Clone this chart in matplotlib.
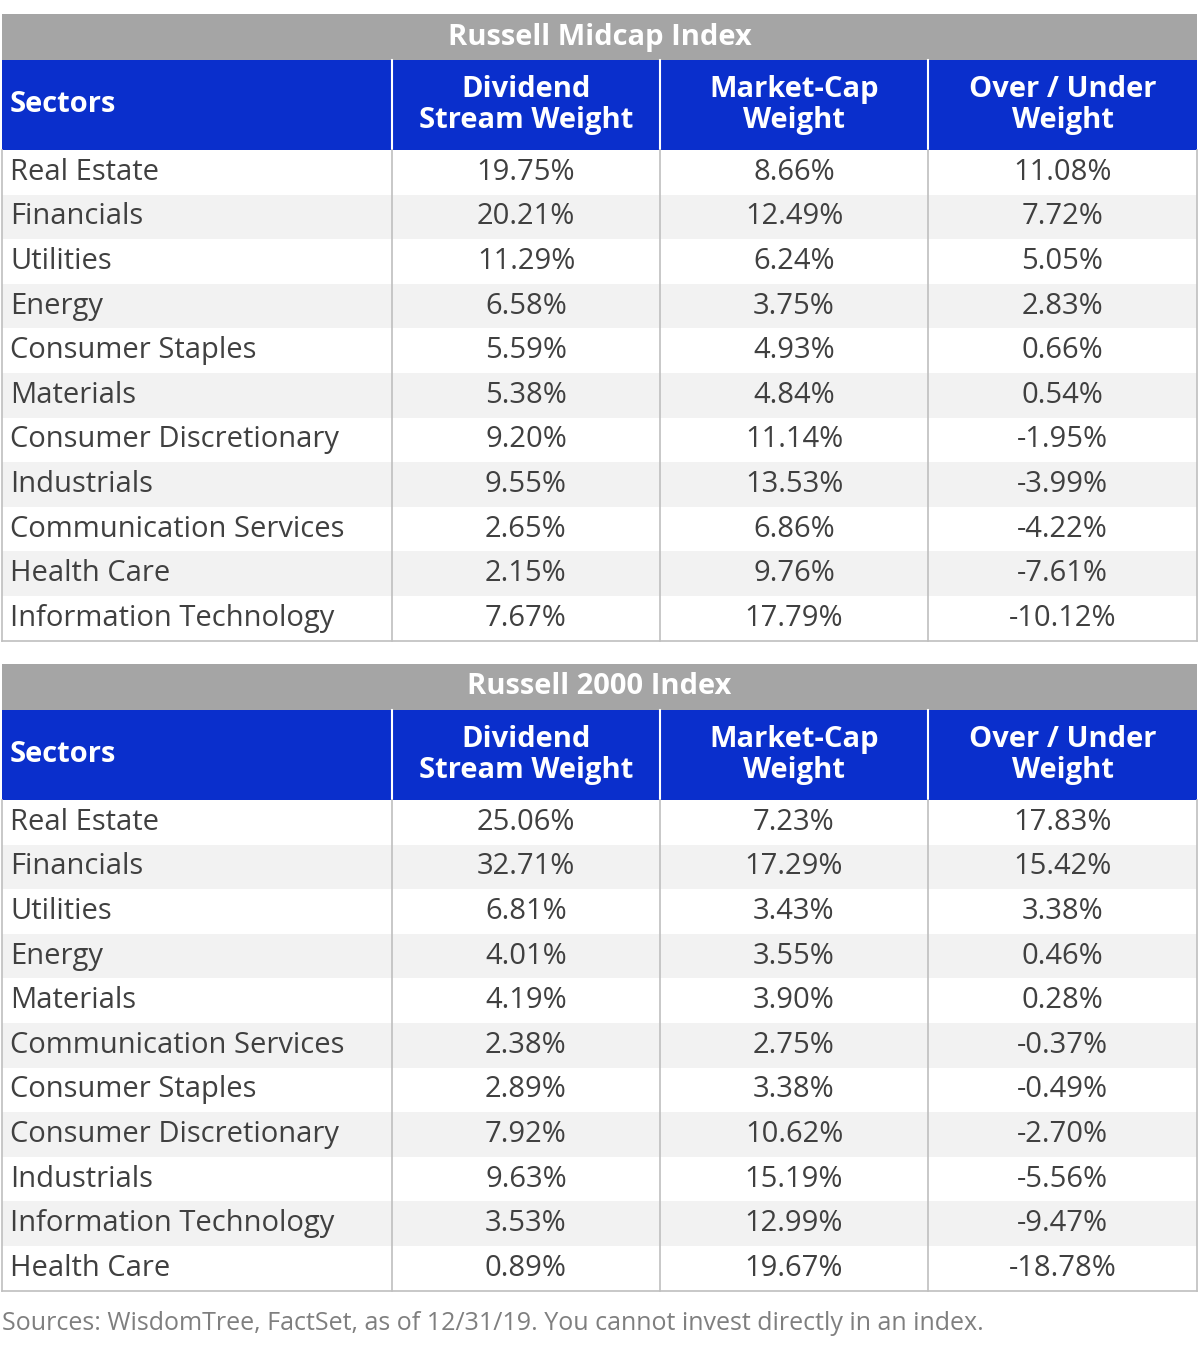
import matplotlib.pyplot as plt
from matplotlib.patches import Rectangle

plt.rcParams['font.family'] = ['Open Sans', 'DejaVu Sans']

columns = ["Sectors", "Dividend\nStream Weight", "Market-Cap\nWeight", "Over / Under\nWeight"]

mid_title = "Russell Midcap Index"
mid_sectors = ["Real Estate", "Financials", "Utilities", "Energy", "Consumer Staples", "Materials",
               "Consumer Discretionary", "Industrials", "Communication Services", "Health Care",
               "Information Technology"]
mid_div = ["19.75%", "20.21%", "11.29%", "6.58%", "5.59%", "5.38%", "9.20%", "9.55%", "2.65%", "2.15%", "7.67%"]
mid_cap = ["8.66%", "12.49%", "6.24%", "3.75%", "4.93%", "4.84%", "11.14%", "13.53%", "6.86%", "9.76%", "17.79%"]
mid_ou = ["11.08%", "7.72%", "5.05%", "2.83%", "0.66%", "0.54%", "-1.95%", "-3.99%", "-4.22%", "-7.61%", "-10.12%"]

r2k_title = "Russell 2000 Index"
r2k_sectors = ["Real Estate", "Financials", "Utilities", "Energy", "Materials", "Communication Services",
               "Consumer Staples", "Consumer Discretionary", "Industrials", "Information Technology",
               "Health Care"]
r2k_div = ["25.06%", "32.71%", "6.81%", "4.01%", "4.19%", "2.38%", "2.89%", "7.92%", "9.63%", "3.53%", "0.89%"]
r2k_cap = ["7.23%", "17.29%", "3.43%", "3.55%", "3.90%", "2.75%", "3.38%", "10.62%", "15.19%", "12.99%", "19.67%"]
r2k_ou = ["17.83%", "15.42%", "3.38%", "0.46%", "0.28%", "-0.37%", "-0.49%", "-2.70%", "-5.56%", "-9.47%", "-18.78%"]

source = "Sources: WisdomTree, FactSet, as of 12/31/19. You cannot invest directly in an index."

GREY = "#a5a5a5"
BLUE = "#0a2fcc"
ALT = "#f2f2f2"
LINE = "#bfbfbf"
TXT = "#404040"

col_x = [2, 392, 660, 928, 1197]
title_h, head_h, row_h = 46, 90, 44.6

fig = plt.figure(figsize=(12, 13.59), dpi=100)
ax = fig.add_axes([0, 0, 1, 1])
ax.set_xlim(0, 1200)
ax.set_ylim(1359, 0)
ax.axis('off')


def draw_table(top, title, sectors, div, cap, ou):
    left, right = col_x[0], col_x[-1]
    ax.add_patch(Rectangle((left, top), right - left, title_h, color=GREY, lw=0))
    ax.text((left + right) / 2, top + title_h / 2, title, color="white", fontsize=21,
            fontweight='bold', ha='center', va='center')
    y = top + title_h
    ax.add_patch(Rectangle((left, y), right - left, head_h, color=BLUE, lw=0))
    for i, c in enumerate(columns):
        if i == 0:
            ax.text(left + 8, y + head_h / 2, c, color="white", fontsize=21, fontweight='bold',
                    ha='left', va='center')
        else:
            ax.text((col_x[i] + col_x[i + 1]) / 2, y + head_h / 2, c, color="white", fontsize=21,
                    fontweight='bold', ha='center', va='center', linespacing=1.1)
        if i > 0:
            ax.plot([col_x[i], col_x[i]], [y, y + head_h], color="white", lw=1.5)
    y += head_h
    for r, vals in enumerate(zip(sectors, div, cap, ou)):
        ry = y + r * row_h
        ax.add_patch(Rectangle((left, ry), right - left, row_h,
                               color=("white" if r % 2 == 0 else ALT), lw=0))
        for i, v in enumerate(vals):
            if i == 0:
                ax.text(left + 8, ry + row_h / 2, v, color=TXT, fontsize=21, ha='left', va='center')
            else:
                ax.text((col_x[i] + col_x[i + 1]) / 2, ry + row_h / 2, v, color=TXT, fontsize=21,
                        ha='center', va='center')
    bottom = y + len(sectors) * row_h
    for x in col_x:
        ax.plot([x, x], [y, bottom], color=LINE, lw=1.2)
    ax.plot([left, right], [bottom, bottom], color=LINE, lw=1.2)


draw_table(14, mid_title, mid_sectors, mid_div, mid_cap, mid_ou)
draw_table(664, r2k_title, r2k_sectors, r2k_div, r2k_cap, r2k_ou)
ax.text(2, 1323, source, color="#7f7f7f", fontsize=18, ha='left', va='center')

fig.savefig("out.png", dpi=100)
